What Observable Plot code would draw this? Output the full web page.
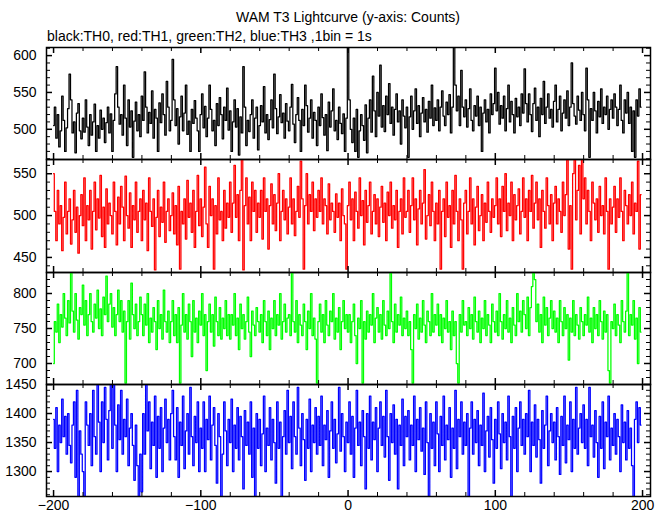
<!DOCTYPE html>
<html><head><meta charset="utf-8">
<script src="https://cdn.jsdelivr.net/npm/d3@7"></script>
<script src="https://cdn.jsdelivr.net/npm/@observablehq/plot@0.6"></script>
<style>
body{margin:0;background:#fff;}
#wrap{position:relative;width:669px;height:515px;font-family:"Liberation Sans",Arial,Helvetica,sans-serif;background:#fff;overflow:hidden;}
.t{position:absolute;font-size:14px;color:#000;white-space:nowrap;line-height:14px;}
#title{left:348px;top:10px;transform:translateX(-50%);}
#sub{left:47px;top:29px;}
</style></head>
<body>
<div id="wrap">
<div class="t" id="title">WAM T3 Lightcurve (y-axis: Counts)</div>
<div class="t" id="sub">black:TH0, red:TH1, green:TH2, blue:TH3 ,1bin = 1s</div>
</div>
<script>
// time bins (s), first bin
const xStart = -200;
const xTickLabels = [-200, -100, 0, 100, 200];

// TH0 (black) counts per 1 s bin, x = -200 .. 199
const th0 = [
505,530,488,520,476,498,545,512,470,502,528,575,540,495,510,468,522,535,498,487,
515,496,540,503,478,520,492,510,534,470,505,488,526,500,515,482,509,530,495,521,
470,512,548,585,530,507,520,492,560,515,478,540,503,525,462,511,537,498,520,490,
545,512,578,530,495,523,508,552,488,527,515,470,536,509,548,520,492,565,530,498,
512,595,540,505,528,480,517,545,498,522,560,493,511,470,527,508,539,515,498,470,
520,548,502,531,490,515,560,527,498,512,478,535,505,543,520,487,530,512,556,499,
525,470,510,540,503,528,465,517,495,585,530,478,512,497,520,540,488,515,530,472,
505,532,510,558,495,520,486,513,540,502,575,528,494,517,547,509,522,488,535,511,
498,530,561,507,482,520,543,512,470,527,505,560,532,496,515,540,488,523,512,478,
530,505,548,516,492,520,471,537,503,525,555,498,512,486,530,508,494,521,470,515,
640,540,500,482,515,470,527,462,498,520,505,485,533,468,515,540,496,572,525,490,
550,518,587,503,532,497,545,520,562,508,530,492,527,548,510,525,480,540,518,502,
530,462,517,545,500,525,555,508,532,490,522,543,510,527,496,538,515,560,505,529,
512,540,498,530,552,518,505,537,520,547,495,530,612,560,525,545,505,580,530,517,
540,503,528,555,512,498,532,518,545,505,530,470,522,540,510,527,495,548,520,535,
583,525,550,507,532,515,545,498,528,560,510,538,520,495,542,517,530,505,548,522,
582,535,510,548,520,497,535,556,512,530,490,542,520,565,508,530,548,515,527,503,
538,560,510,527,545,498,522,540,515,552,505,530,590,535,518,507,545,526,512,550,
520,498,583,540,462,528,512,550,525,495,538,517,555,508,530,520,545,500,527,540,
515,548,530,505,527,560,512,495,540,522,550,508,530,470,525,462,540,518,555,530
];

// TH1 (red)
const th1 = [
550,505,470,530,490,512,458,498,540,478,505,520,466,495,530,480,510,455,500,525,
488,545,470,512,495,530,460,505,540,483,520,497,548,475,510,462,532,490,515,500,
478,540,505,465,522,490,535,510,470,547,500,485,527,462,512,495,540,480,505,520,
470,530,495,515,458,545,505,487,520,435,498,530,475,510,492,540,468,505,520,482,
500,527,478,512,465,535,436,505,490,520,472,542,498,515,480,530,462,505,548,488,
520,475,510,558,490,462,535,500,520,436,512,478,545,495,505,470,530,485,515,498,
540,480,515,560,498,525,470,530,567,435,512,545,490,522,470,540,505,530,480,515,
498,530,472,545,505,520,460,512,538,490,525,482,515,550,470,505,530,495,520,478,
510,545,490,520,476,505,535,498,565,520,436,512,550,490,525,505,540,482,520,498,
530,505,545,490,520,512,478,538,495,515,505,480,526,498,515,470,532,500,490,436,
512,540,495,520,470,528,505,485,545,500,518,465,530,492,512,540,478,505,525,490,
520,475,510,535,492,515,470,528,500,540,485,512,495,530,462,505,520,478,545,498,
505,530,480,512,545,495,520,465,508,530,490,515,555,472,500,525,488,540,505,470,
515,490,530,436,505,520,475,540,498,512,462,530,490,548,505,470,520,495,436,515,
530,478,505,545,490,520,465,510,535,482,500,525,470,515,492,540,505,480,520,498,
512,545,490,520,475,535,505,550,482,515,500,540,470,525,495,512,532,478,505,545,
498,520,470,530,505,548,485,515,540,495,520,462,530,505,485,545,512,490,525,470,
515,535,490,520,505,480,540,500,525,567,460,512,436,550,567,495,530,560,478,567,
520,545,490,530,505,470,540,515,495,520,480,535,500,512,478,545,505,436,520,490,
510,535,480,520,498,545,505,470,530,512,490,525,500,540,478,515,505,565,460,525
];

// TH2 (green)
const th2 = [
700,760,745,785,730,770,752,800,765,740,790,758,830,775,745,800,762,735,780,770,
812,755,790,740,770,800,760,745,785,765,805,750,778,740,795,770,825,760,785,800,
752,780,740,770,805,760,790,745,775,672,760,790,735,815,770,750,785,740,760,795,
770,740,785,755,800,730,765,745,780,760,720,790,750,770,735,805,760,745,775,730,
760,790,740,770,730,780,672,755,800,745,770,735,785,760,710,790,745,765,730,775,
755,800,740,770,690,760,785,745,770,725,795,760,740,780,735,765,750,790,740,770,
735,770,755,800,740,765,720,785,750,770,735,760,795,745,710,775,755,740,780,760,
745,770,730,790,760,740,775,720,765,750,790,740,770,755,800,735,760,785,745,765,
770,740,830,760,745,790,730,770,755,740,785,760,720,775,750,800,740,765,735,672,
760,785,745,770,730,790,755,740,775,760,800,735,765,745,780,720,760,790,750,770,
745,770,730,760,785,740,700,765,750,790,672,760,735,775,745,770,755,800,730,765,
780,745,770,735,790,755,740,775,750,830,760,730,785,745,770,755,795,740,765,750,
775,740,760,720,672,770,750,785,735,765,745,790,755,730,775,760,740,800,745,770,
755,785,740,770,730,765,750,790,745,760,720,775,740,760,700,672,770,745,790,755,
760,740,780,750,770,735,795,760,745,775,730,765,750,790,740,770,755,730,785,760,
745,775,740,800,760,735,770,750,790,745,765,730,780,755,740,800,760,775,745,790,
770,750,795,740,780,810,830,820,760,785,745,770,730,795,755,780,740,765,790,750,
775,745,765,730,790,760,740,780,750,770,705,765,745,790,740,770,755,735,780,760,
740,770,755,795,745,765,730,780,750,770,740,790,760,735,775,745,770,690,672,760,
750,785,740,770,755,730,790,760,745,775,830,740,770,755,790,735,765,700,780,745
];

// TH3 (blue)
const th3 = [
1390,1340,1410,1300,1380,1350,1425,1360,1395,1330,1400,1345,1315,1380,1420,1290,1440,1257,1370,1330,
1300,1257,1420,1380,1345,1400,1310,1440,1360,1330,1450,1385,1300,1420,1350,1445,1390,1320,1405,1450,
1340,1450,1380,1300,1415,1355,1440,1330,1390,1360,1425,1310,1375,1400,1345,1285,1380,1310,1257,1330,
1265,1400,1330,1450,1370,1420,1305,1385,1345,1430,1290,1395,1340,1410,1300,1375,1425,1350,1390,1320,
1400,1440,1360,1320,1410,1290,1385,1345,1430,1305,1370,1400,1330,1445,1360,1310,1395,1350,1420,1300,
1375,1340,1420,1300,1390,1355,1430,1320,1380,1410,1345,1280,1400,1360,1257,1330,1420,1370,1310,1390,
1350,1425,1300,1380,1340,1410,1320,1395,1360,1270,1405,1345,1385,1330,1420,1290,1375,1257,1400,1340,
1390,1310,1365,1430,1300,1375,1345,1410,1320,1390,1350,1280,1420,1340,1385,1257,1360,1405,1330,1440,
1350,1395,1305,1420,1360,1330,1445,1375,1310,1400,1355,1285,1390,1340,1425,1300,1380,1350,1410,1330,
1395,1345,1430,1310,1380,1355,1405,1290,1370,1420,1340,1390,1315,1365,1445,1335,1400,1360,1300,1385,
1350,1420,1330,1395,1290,1375,1440,1345,1385,1310,1405,1360,1270,1400,1340,1430,1320,1385,1355,1410,
1300,1375,1420,1345,1395,1325,1440,1360,1285,1400,1350,1415,1330,1390,1270,1380,1345,1425,1310,1395,
1360,1405,1320,1380,1345,1430,1300,1390,1355,1410,1335,1375,1295,1420,1350,1257,1400,1340,1385,1310,
1420,1365,1300,1395,1345,1430,1320,1380,1355,1410,1290,1375,1340,1440,1305,1390,1360,1420,1330,1385,
1345,1400,1257,1375,1420,1330,1390,1350,1405,1310,1380,1345,1435,1300,1370,1395,1325,1410,1355,1280,
1390,1340,1420,1365,1305,1400,1350,1385,1320,1430,1360,1257,1395,1340,1410,1300,1375,1420,1345,1390,
1330,1400,1360,1440,1300,1385,1345,1415,1325,1390,1355,1280,1405,1340,1380,1430,1310,1370,1400,1350,
1385,1320,1410,1360,1295,1395,1345,1430,1315,1380,1355,1420,1300,1390,1340,1445,1330,1375,1400,1350,
1415,1340,1390,1310,1445,1360,1380,1325,1405,1350,1290,1395,1340,1420,1305,1385,1360,1430,1320,1375,
1345,1400,1330,1390,1360,1300,1415,1350,1385,1320,1405,1340,1375,1310,1257,1390,1420,1350,1410,1380
];

// y tick labels per panel
const yLabels0 = [500, 550, 600];
const yLabels1 = [450, 500, 550];
const yLabels2 = [700, 750, 800];
const yLabels3 = [1300, 1350, 1400, 1450];

const wrap = document.getElementById("wrap");
const W = 669, ML = 46, MR = 19;
const xDomain = [-204.8, 205.4];
const xMinor = d3.range(-200, 201, 20).filter(v => v % 100 !== 0);
const FONT = '"Liberation Sans", Arial, Helvetica, sans-serif';
const fmtX = d => d < 0 ? "\u2212" + (-d) : String(d);

function panel(vals, color, yDomain, yLabels, top, bottom, last) {
  const pad = 10, padB = last ? 22 : 10;
  const h = bottom - top;
  const yMajor = d3.range(Math.ceil(yDomain[0] / 50) * 50, yDomain[1] + 0.001, 50);
  const yMinor = d3.range(Math.ceil(yDomain[0] / 10) * 10, yDomain[1] + 0.001, 10).filter(v => v % 50 !== 0);
  const data = vals.map((v, i) => ({x: xStart + i, y: v}));
  const iw = W - ML - MR;
  const chart = Plot.plot({
    width: W, height: h + pad + padB,
    marginLeft: ML, marginRight: MR, marginTop: pad, marginBottom: padB,
    style: {background: "transparent", fontSize: "14px", fontFamily: FONT, color: "#000", overflow: "visible"},
    x: {domain: xDomain, axis: last ? "bottom" : null, ticks: xTickLabels, tickFormat: fmtX, tickSize: 0, tickPadding: 4, label: null},
    y: {domain: yDomain, ticks: yLabels, tickFormat: d => String(d), tickSize: 0, tickPadding: 10, label: null},
    marks: [
      Plot.line(data, {x: "x", y: "y", stroke: color, strokeWidth: 1.25, curve: "step", clip: true}),
      Plot.ruleX(xTickLabels, {stroke: "#000", strokeWidth: 1.5, insetBottom: h - 6}),
      Plot.ruleX(xTickLabels, {stroke: "#000", strokeWidth: 1.5, insetTop: h - 6}),
      Plot.ruleX(xMinor, {stroke: "#000", strokeWidth: 1, insetBottom: h - 4}),
      Plot.ruleX(xMinor, {stroke: "#000", strokeWidth: 1, insetTop: h - 4}),
      Plot.ruleY(yMajor, {stroke: "#000", strokeWidth: 1.5, insetRight: iw - 6}),
      Plot.ruleY(yMajor, {stroke: "#000", strokeWidth: 1.5, insetLeft: iw - 6}),
      Plot.ruleY(yMinor, {stroke: "#000", strokeWidth: 1, insetRight: iw - 4}),
      Plot.ruleY(yMinor, {stroke: "#000", strokeWidth: 1, insetLeft: iw - 4}),
      Plot.frame({stroke: "#000", strokeWidth: 1.5})
    ]
  });
  chart.style.position = "absolute";
  chart.style.left = "0px";
  chart.style.top = (top - pad) + "px";
  wrap.appendChild(chart);
}

panel(th0, "#000000", [459, 611], yLabels0, 47, 159, false);
panel(th1, "#ff0000", [432, 567], yLabels1, 159, 272, false);
panel(th2, "#00ff00", [670, 830], yLabels2, 272, 384, false);
panel(th3, "#0000ff", [1257, 1450], yLabels3, 384, 496, true);
</script>
</body></html>
